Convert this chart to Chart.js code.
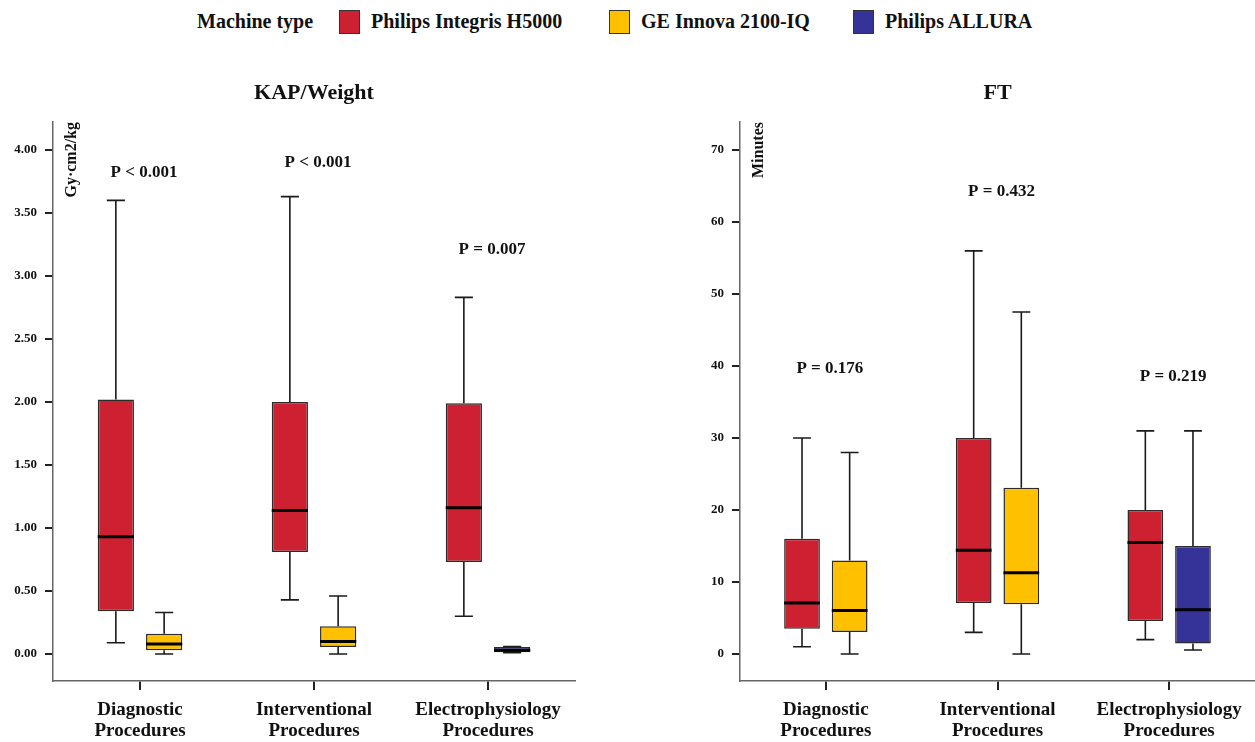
<!DOCTYPE html>
<html>
<head>
<meta charset="utf-8">
<script src="https://cdn.jsdelivr.net/npm/chart.js@4.4.1/dist/chart.umd.min.js"></script>
<style>
  body { margin: 0; background: #fff; width: 1255px; height: 742px; position: relative; overflow: hidden; font-family: "Liberation Serif", serif; }
  #legend { position: absolute; left: 0; top: 0; width: 1255px; height: 45px; font-weight: bold; font-size: 20px; color: #111; }
  #legend span { position: absolute; }
  #legend .sw { top: 10px; width: 19px; height: 22px; border: 1px solid #333; }
  #legend .txt { top: 9px; line-height: 24px; white-space: nowrap; }
  canvas { position: absolute; top: 50px; }
  #kap { left: 0; }
  #ft { left: 627px; }
</style>
</head>
<body>
<div id="legend"></div>
<canvas id="kap" width="627" height="692"></canvas>
<canvas id="ft" width="628" height="692"></canvas>
<script>
// categories and machines
var categories = [["Diagnostic", "Procedures"], ["Interventional", "Procedures"], ["Electrophysiology", "Procedures"]];
var machines = ["Philips Integris H5000", "GE Innova 2100-IQ", "Philips ALLURA"];
var machineColors = ["#cd2132", "#ffc000", "#363398"];

// box values: [min, q1, median, q3, max] per category
var kapH5000  = [[0.09, 0.34, 0.93, 2.02, 3.60], [0.43, 0.81, 1.14, 2.00, 3.63], [0.30, 0.73, 1.16, 1.99, 2.83]];
var kapGE     = [[0.00, 0.03, 0.08, 0.16, 0.33], [0.00, 0.055, 0.10, 0.22, 0.46], null];
var kapAllura = [null, null, [0.01, 0.015, 0.03, 0.055, 0.06]];

var ftH5000  = [[1, 3.5, 7.1, 16, 30], [3, 7.1, 14.4, 30, 56], [2, 4.6, 15.5, 20, 31]];
var ftGE     = [[0, 3.05, 6.05, 13, 28], [0, 6.9, 11.3, 23.1, 47.5], null];
var ftAllura = [null, null, [0.55, 1.45, 6.15, 15, 31]];

var kapTicks = [0, 0.5, 1, 1.5, 2, 2.5, 3, 3.5, 4];
var ftTicks = [0, 10, 20, 30, 40, 50, 60, 70];

var kapP = ["P < 0.001", "P < 0.001", "P = 0.007"];
var kapPY = [3.82, 3.90, 3.21];
var ftP = ["P = 0.176", "P = 0.432", "P = 0.219"];
var ftPY = [39.7, 64.3, 38.6];

var font = "Liberation Serif";

// legend (positions in px)
var legendSwatchX = [339, 609, 853];
var leg = document.getElementById("legend");
function addSpan(cls, left, text, bg) {
    var s = document.createElement("span");
    s.className = cls;
    s.style.left = left + "px";
    if (text) s.textContent = text;
    if (bg) s.style.background = bg;
    leg.appendChild(s);
}
addSpan("txt", 197, "Machine type");
for (var m = 0; m < machines.length; m++) {
    addSpan("sw", legendSwatchX[m], null, machineColors[m]);
    addSpan("txt", legendSwatchX[m] + 32, machines[m]);
}

// whiskers + medians
var boxPlugin = {
    id: "boxes",
    afterDatasetsDraw: function(chart) {
        var ctx = chart.ctx, ys = chart.scales.y;
        chart.data.datasets.forEach(function(ds, di) {
            var meta = chart.getDatasetMeta(di);
            meta.data.forEach(function(bar, i) {
                var b = ds.box[i];
                if (!b) return;
                var x = bar.x, w = bar.width;
                ctx.save();
                ctx.strokeStyle = "#1a1a1a";
                ctx.lineWidth = 1.6;
                ctx.beginPath();
                ctx.moveTo(x, ys.getPixelForValue(b[3]));
                ctx.lineTo(x, ys.getPixelForValue(b[4]));
                ctx.moveTo(x - w / 4, ys.getPixelForValue(b[4]));
                ctx.lineTo(x + w / 4, ys.getPixelForValue(b[4]));
                ctx.moveTo(x, ys.getPixelForValue(b[1]));
                ctx.lineTo(x, ys.getPixelForValue(b[0]));
                ctx.moveTo(x - w / 4, ys.getPixelForValue(b[0]));
                ctx.lineTo(x + w / 4, ys.getPixelForValue(b[0]));
                ctx.stroke();
                ctx.strokeStyle = "#000";
                ctx.lineWidth = 3;
                ctx.beginPath();
                ctx.moveTo(x - w / 2, ys.getPixelForValue(b[2]));
                ctx.lineTo(x + w / 2, ys.getPixelForValue(b[2]));
                ctx.stroke();
                ctx.restore();
            });
        });
    }
};

// p values and rotated unit label inside the plot
var notePlugin = {
    id: "notes",
    afterDraw: function(chart) {
        var o = chart.options.plugins.notes;
        var ctx = chart.ctx, xs = chart.scales.x, ys = chart.scales.y;
        ctx.save();
        ctx.fillStyle = "#111";
        ctx.font = "bold 17px '" + font + "'";
        ctx.textAlign = "center";
        ctx.textBaseline = "middle";
        for (var i = 0; i < o.p.length; i++) {
            ctx.fillText(o.p[i], xs.getPixelForValue(i) + 4, ys.getPixelForValue(o.py[i]));
        }
        ctx.font = "bold 16px '" + font + "'";
        ctx.translate(chart.chartArea.left + 19, chart.chartArea.top);
        ctx.rotate(-Math.PI / 2);
        ctx.textAlign = "right";
        ctx.fillText(o.unit, 0, 0);
        ctx.restore();
    }
};

function makeChart(id, title, unit, series, ticks, dec, yMin, yMax, p, py, yWidth, padRight) {
    var datasets = series.map(function(s, k) {
        return {
            label: machines[k],
            data: s.map(function(b) { return b ? [b[1], b[3]] : null; }),
            box: s,
            backgroundColor: machineColors[k],
            borderColor: "#2b2b2b",
            borderWidth: 1.5,
            borderSkipped: false,
            categoryPercentage: 0.555,
            barPercentage: 0.75
        };
    });
    return new Chart(document.getElementById(id), {
        type: "bar",
        data: { labels: categories, datasets: datasets },
        options: {
            responsive: false,
            animation: false,
            skipNull: true,
            layout: { padding: { left: 0, right: padRight, top: 0, bottom: 0 } },
            plugins: {
                legend: { display: false },
                tooltip: { enabled: false },
                title: {
                    display: true,
                    text: title,
                    fullSize: false,
                    color: "#111",
                    font: { family: font, size: 22, weight: "bold", lineHeight: 1.2 },
                    padding: { top: 30, bottom: 15.6 }
                },
                notes: { p: p, py: py, unit: unit }
            },
            scales: {
                x: {
                    grid: { display: true, drawOnChartArea: false, offset: false, tickLength: 9, color: "#222", lineWidth: 2 },
                    border: { display: true, color: "#666", width: 1.5 },
                    ticks: { color: "#111", padding: 10, font: { family: font, size: 19, weight: "bold", lineHeight: 1.1 } },
                    afterFit: function(s) { s.height = 61; }
                },
                y: {
                    min: yMin,
                    max: yMax,
                    grid: { display: true, drawOnChartArea: false, tickLength: 8, color: "#222", lineWidth: 2 },
                    border: { display: true, color: "#666", width: 1.5 },
                    ticks: {
                        color: "#111",
                        padding: 8,
                        font: { family: font, size: 13, weight: "bold" },
                        callback: function(v) { return v.toFixed(dec); }
                    },
                    afterBuildTicks: function(s) { s.ticks = ticks.map(function(v) { return { value: v }; }); },
                    afterFit: function(s) { s.width = yWidth; }
                }
            }
        },
        plugins: [boxPlugin, notePlugin]
    });
}

makeChart("kap", "KAP/Weight", "Gy\u00b7cm2/kg", [kapH5000, kapGE, kapAllura], kapTicks, 2, -0.214, 4.222, kapP, kapPY, 53, 52);
makeChart("ft", "FT", "Minutes", [ftH5000, ftGE, ftAllura], ftTicks, 0, -3.75, 73.9, ftP, ftPY, 113, 0);
</script>
</body>
</html>
